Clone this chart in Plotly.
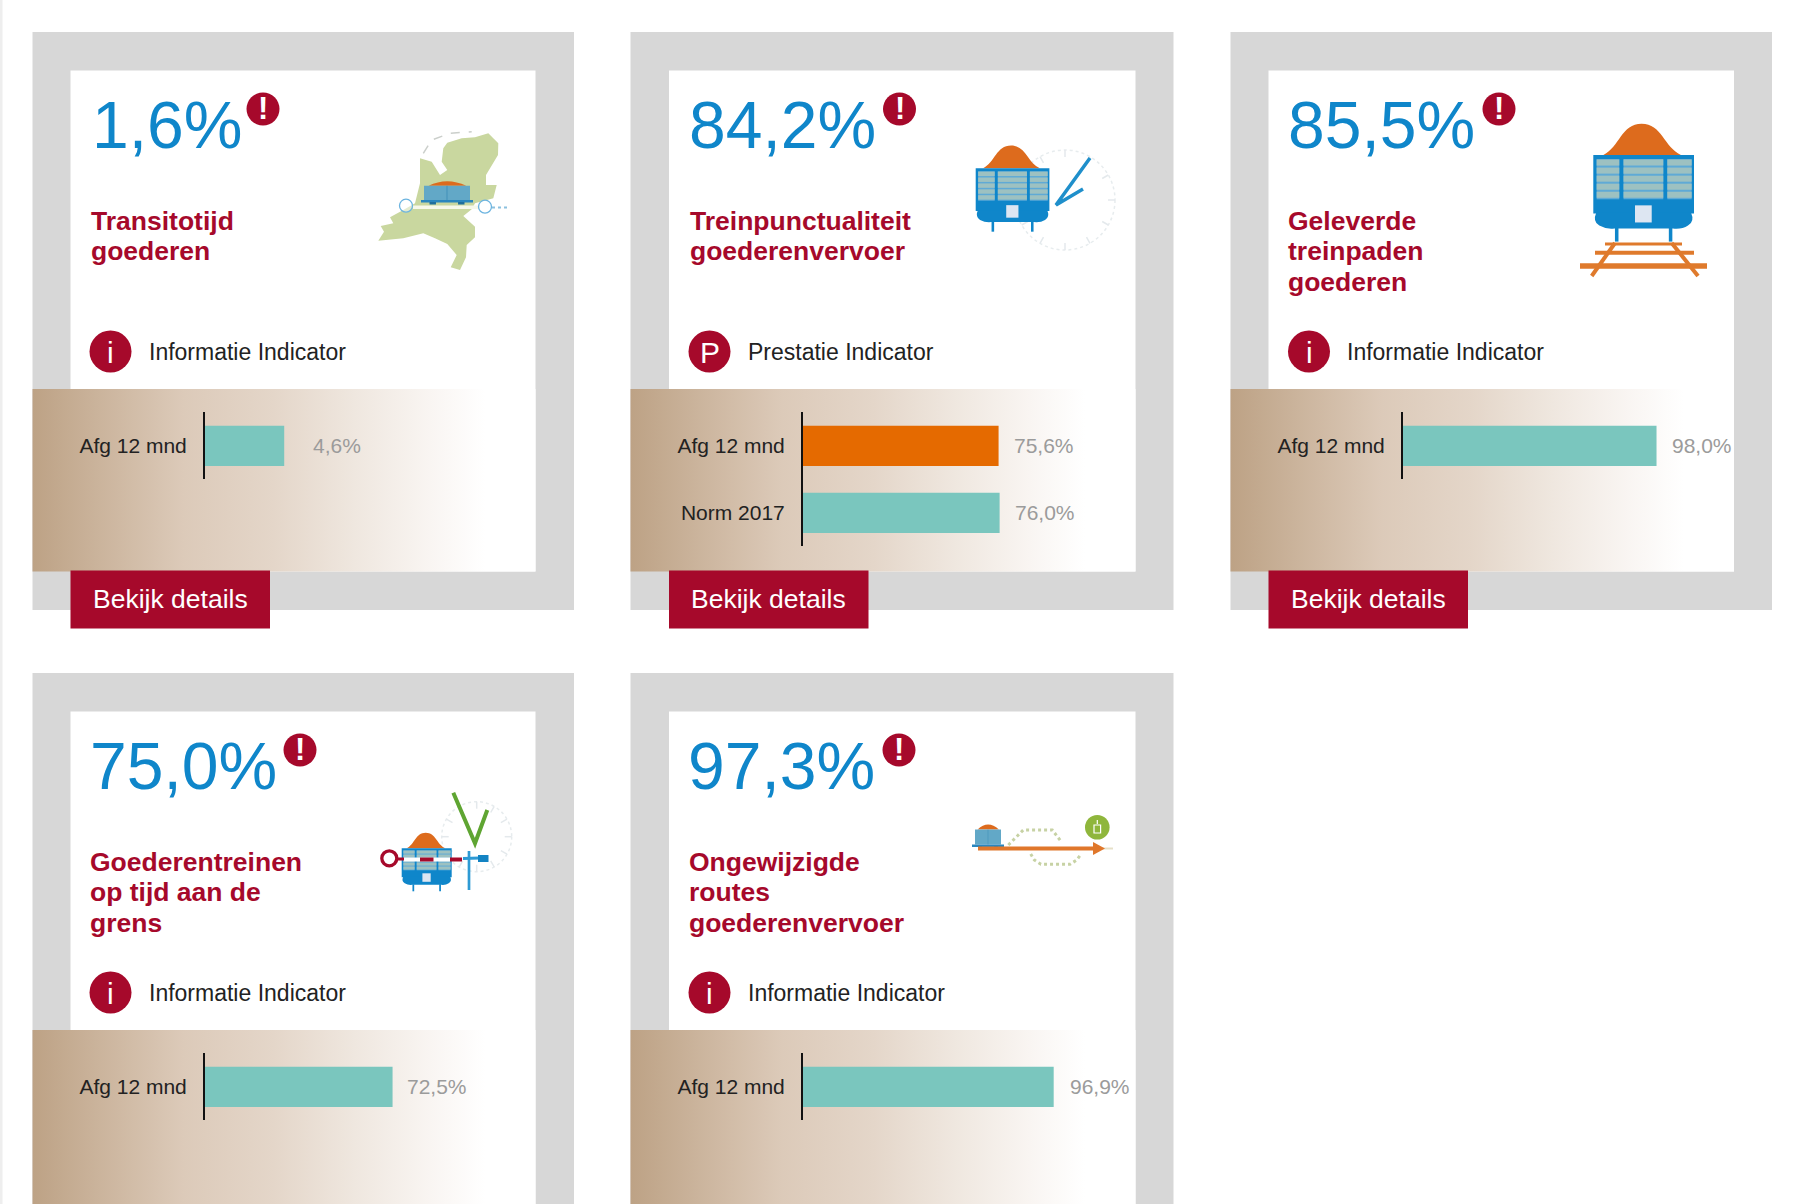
import math
import plotly.graph_objects as go

# data
headlines = ["1,6%", "84,2%", "85,5%", "75,0%", "97,3%"]
titles = [
    ["Transitotijd", "goederen"],
    ["Treinpunctualiteit", "goederenvervoer"],
    ["Geleverde", "treinpaden", "goederen"],
    ["Goederentreinen", "op tijd aan de", "grens"],
    ["Ongewijzigde", "routes", "goederenvervoer"],
]
indicators = ["Informatie Indicator", "Prestatie Indicator", "Informatie Indicator",
              "Informatie Indicator", "Informatie Indicator"]
indicator_marks = ["i", "P", "i", "i", "i"]
bar_categories = [
    ["Afg 12 mnd"],
    ["Afg 12 mnd", "Norm 2017"],
    ["Afg 12 mnd"],
    ["Afg 12 mnd"],
    ["Afg 12 mnd"],
]
bar_values = [
    [4.6],
    [75.6, 76.0],
    [98.0],
    [72.5],
    [96.9],
]
# the first card has its own scale, its bar is much longer than 4,6 of 100
axis_max = [15.1, 100.5, 100.5, 100.5, 100.5]

# colours
GREY = "#D7D7D7"
RED = "#A6092B"
BLUE = "#0F86CA"
TEAL = "#7AC6BE"
ORANGE = "#E56A00"
RUST = "#DD6B1D"
bar_colors = [[TEAL], [ORANGE, TEAL], [TEAL], [TEAL], [TEAL]]
FONT = "Liberation Sans"

# page layout in pixels
W, H = 1800, 1204
outer_x = [(32.5, 574), (630.5, 1173.5), (1230.5, 1772), (32.5, 574), (630.5, 1173.5)]
inner_x = [(70.5, 535.5), (669, 1135.5), (1268.5, 1734), (70.5, 535.5), (669, 1135.5)]
row_y = [0, 0, 0, 641, 641]
axis_x = [205, 803, 1403, 205, 803]
head_x = [90.5, 688, 1287, 88.5, 686.5]
title_x = [89.5, 688.5, 1287, 88.5, 687.5]
badge_x = [263, 899.5, 1499, 300, 899]
circle_x = [110.5, 709.5, 1309, 110.5, 709.5]
label_x = [147.5, 746.5, 1345.5, 147.5, 746.5]
value_gap = [28, 14, 14, 13.5, 15]
button_w = 199.5


def rect(x0, y0, x1, y1, color, layer="above"):
    return dict(type="rect", xref="x", yref="y", x0=x0, y0=y0, x1=x1, y1=y1,
                fillcolor=color, line_width=0, layer=layer)


def circle(cx, cy, r, fill, line=None, width=0, dash=None):
    ln = dict(width=width)
    if line:
        ln["color"] = line
    if dash:
        ln["dash"] = dash
    return dict(type="circle", xref="x", yref="y", x0=cx - r, y0=cy - r, x1=cx + r, y1=cy + r,
                fillcolor=fill, line=ln, layer="above")


def path(d, fill=None, line=None, width=0, dash=None):
    ln = dict(width=width)
    if line:
        ln["color"] = line
    if dash:
        ln["dash"] = dash
    return dict(type="path", xref="x", yref="y", path=d,
                fillcolor=fill if fill else "rgba(0,0,0,0)", line=ln, layer="above")


def outline(points, ox, oy, closed=True, scale=1 / 3):
    # icon outlines were traced at 3x, ox and oy are the icon's corner on the page
    d = "M" + " L".join(f"{ox + x * scale:.1f},{oy + y * scale:.1f}" for x, y in points)
    return d + (" Z" if closed else "")


def wagon(x0, y0, s):
    def p(x, y):
        return f"{x0 + x * s:.1f},{y0 + y * s:.1f}"

    out = []
    out.append(path(f"M{p(10, 0)} C{p(26, -8)} {p(28, -31)} {p(48, -31)} "
                    f"C{p(68, -31)} {p(70, -8)} {p(87, 0)} Z", RUST))
    out.append(rect(x0, y0, x0 + 100 * s, y0 + 58 * s, BLUE))
    for a, b in [(3.3, 25.8), (30, 69.5), (73.5, 97.7)]:
        out.append(rect(x0 + a * s, y0 + 4 * s, x0 + b * s, y0 + 44 * s, "#5FAAD6"))
        for k in range(5):
            top = 4.5 + k * 8
            out.append(rect(x0 + a * s, y0 + top * s, x0 + b * s, y0 + (top + 6) * s, "#9DC1C1"))
    out.append(path(f"M{p(3, 57)} Q{p(-1, 66)} {p(6, 70)} Q{p(13, 74)} {p(21, 73)} L{p(79, 73)} "
                    f"Q{p(88, 74)} {p(94, 70)} Q{p(101, 66)} {p(97, 57)} Z", BLUE))
    out.append(rect(x0 + 41.4 * s, y0 + 50 * s, x0 + 58 * s, y0 + 67 * s, "#DDE6F2"))
    for a in (21.5, 75):
        out.append(rect(x0 + a * s, y0 + 72 * s, x0 + (a + 3.5) * s, y0 + 86 * s, BLUE))
    return out


def flat_wagon(x0, y0, w, h, hump):
    # the small side-on wagons of cards 1 and 5
    out = [path(f"M{x0 + w * 0.1:.1f},{y0} Q{x0 + w * 0.5:.1f},{y0 - hump * 2:.1f} {x0 + w * 0.92:.1f},{y0} Z", RUST)]
    out.append(rect(x0, y0, x0 + w, y0 + h, "#62A8C7"))
    out.append(rect(x0 + w * 0.49, y0, x0 + w * 0.51, y0 + h, "#3F8EB8"))
    out.append(rect(x0 - 3, y0 + h, x0 + w + 3, y0 + h + 2.5, "#2A86BE"))
    out.append(rect(x0 + w * 0.12, y0 + h + 2, x0 + w * 0.26, y0 + h + 4.5, "#1F6E9C"))
    out.append(rect(x0 + w * 0.74, y0 + h + 2, x0 + w * 0.88, y0 + h + 4.5, "#1F6E9C"))
    return out


def clock(cx, cy, r):
    out = [circle(cx, cy, r, "rgba(0,0,0,0)", "#E7ECEE", 1.5, "dot")]
    for k in range(12):
        a = k * math.pi / 6
        out.append(path(f"M{cx + r * math.cos(a):.1f},{cy + r * math.sin(a):.1f} "
                        f"L{cx + (r - 7) * math.cos(a):.1f},{cy + (r - 7) * math.sin(a):.1f}",
                        None, "#E4E9EC", 1.5))
    return out


shapes = [rect(0, 0, 2.5, H, "#EEEEEE", "below")]
for i in range(5):
    dy = row_y[i]
    shapes.append(rect(outer_x[i][0], 32 + dy, outer_x[i][1], 610 + dy, GREY, "below"))
    shapes.append(rect(inner_x[i][0], 70.5 + dy, inner_x[i][1], 571.5 + dy, "white", "below"))
    if dy == 0:
        shapes.append(rect(inner_x[i][0], 570.5, inner_x[i][0] + button_w, 628.5, RED))
    shapes.append(circle(badge_x[i], 109 + dy, 16.5, RED))
    shapes.append(circle(circle_x[i], 351.5 + dy, 21, RED))

# card 1: map with wagon
shapes.append(path(outline([
    (250, 85), (262, 68), (305, 55), (345, 52), (385, 40), (415, 70), (414, 105), (378, 165), (378, 195),
    (410, 195), (400, 235), (345, 250), (335, 268), (310, 288), (345, 320), (345, 352), (320, 375),
    (318, 412), (300, 450), (272, 442), (290, 405), (262, 372), (225, 355), (190, 340), (130, 355),
    (55, 362), (72, 335), (62, 318), (100, 310), (90, 292), (130, 270), (165, 250), (180, 190),
    (180, 115), (215, 125), (240, 165), (262, 150), (245, 125)], 360, 120), "#C9D79F"))
shapes.append(path(outline([(190, 100), (215, 60), (270, 40), (335, 35)], 360, 120, closed=False),
                   None, "#CBCFCB", 1.5, "dash"))
shapes.append(rect(413, 205.5, 480, 209, "#F6F8EA"))
shapes += flat_wagon(424, 185.7, 46, 14.3, 4.5)
shapes.append(circle(406, 205.7, 6.5, "rgba(255,255,255,0.5)", "#6CB4E0", 1.3))
shapes.append(circle(485, 206.7, 6.5, "rgba(255,255,255,0.5)", "#6CB4E0", 1.3))
shapes.append(path("M492,207.5 L510,207.5", None, "#8CC1DF", 2, "dot"))

# card 2: wagon with clock
shapes += clock(1065, 200, 50)
shapes += wagon(975.7, 168.3, 0.737)
shapes.append(path("M1090,158 L1056,205 L1083,189", None, "#1F8FCB", 3.5))

# card 3: wagon on track
shapes += wagon(1593.3, 155, 1.007)
for y, a, b, t in [(244, 1605, 1682, 1.5), (252.7, 1595, 1694, 2), (266, 1580, 1707, 2.7)]:
    shapes.append(rect(a, y - t, b, y + t, "#DF7A2C"))
shapes.append(path("M1615,243 L1591.7,276", None, "#DF7A2C", 4))
shapes.append(path("M1671.7,243 L1698,276", None, "#DF7A2C", 4))

# card 4: wagon with signal
shapes += clock(476.7, 836.7, 35)
shapes.append(path("M453.3,792.7 L475,843.3 L487.3,810", None, "#5FA532", 4))
shapes += wagon(401.7, 848.3, 0.5)
shapes.append(rect(403.5, 857.5, 450, 861.5, "#FFFFFF"))
shapes.append(rect(420, 857.5, 433.5, 861.5, RED))
shapes.append(rect(450, 857.5, 462, 861.5, RED))
shapes.append(rect(397, 857.5, 404, 860.5, RED))
shapes.append(path("M463,858.5 L480,858", None, "#2E9AD4", 3))
shapes.append(rect(478, 855, 488.5, 862, "#1383C3"))
shapes.append(circle(389.3, 858.3, 7.5, "white", RED, 3.3))
shapes.append(path("M469,851 L469,890", None, "#2E9AD4", 2.7))

# card 5: wagon on route
shapes.append(path(outline([(130, 120), (160, 90), (175, 75), (262, 75), (275, 92), (290, 112)], 965, 805,
                           closed=False), None, "#C7D2A4", 3, "dot"))
shapes.append(path(outline([(197, 147), (208, 165), (228, 178), (315, 178), (335, 165), (348, 148)], 965, 805,
                           closed=False), None, "#C7D2A4", 3, "dot"))
shapes += flat_wagon(975, 829.5, 26, 15, 5)
shapes.append(rect(1100, 847.5, 1113, 849.5, "#E6E0C8"))
shapes.append(rect(978, 846.5, 1095, 850.5, "#E0772B"))
shapes.append(path("M1093,842 L1105,848.5 L1093,855 Z", "#E0772B"))
shapes.append(circle(1097.3, 827.3, 12.3, "#8FB63C"))
shapes.append(path("M1097.3,820 L1097.3,824 M1094,825 L1094,833 L1100.6,833 L1100.6,825 Z", None, "white", 1.2))

annotations = []


def text(x, y, s, size, color, bold=False, anchor="left", xref="x", yref="y", xshift=0):
    annotations.append(dict(x=x, y=y, xref=xref, yref=yref, text=f"<b>{s}</b>" if bold else s,
                            showarrow=False, xanchor=anchor, yanchor="middle", xshift=xshift,
                            font=dict(family=FONT, size=size, color=color), borderpad=0))


fig = go.Figure()

# gradient panels come first so that the bars sit on top of them
for i in range(5):
    left, right = outer_x[i][0], inner_x[i][1]
    top, bottom = 389 + row_y[i], 571.5 + row_y[i]
    fig.add_trace(go.Scatter(
        x=[left, right, right, left, left], y=[top, top, bottom, bottom, top],
        mode="lines", line=dict(width=0), fill="toself", hoverinfo="skip", xaxis="x", yaxis="y",
        fillgradient=dict(type="horizontal", colorscale=[
            [0, "#BDA285"], [0.3, "#DCCAB9"], [0.48, "#E4D6C9"], [0.64, "#EFE7DF"],
            [0.79, "#F9F5F2"], [0.9, "#FFFFFF"], [1, "#FFFFFF"]]),
    ))

axes = dict(
    xaxis=dict(range=[0, W], visible=False, domain=[0, 1], fixedrange=True),
    yaxis=dict(range=[H, 0], visible=False, domain=[0, 1], fixedrange=True),
)

for i in range(5):
    n = i + 2
    dy = row_y[i]
    rows = len(bar_values[i])
    y0, y1 = 412.3 + dy, 412.3 + dy + 67 * rows
    x0 = axis_x[i]
    fig.add_trace(go.Bar(
        x=bar_values[i], y=bar_categories[i], orientation="h",
        marker=dict(color=bar_colors[i], line_width=0),
        xaxis=f"x{n}", yaxis=f"y{n}", hoverinfo="skip", cliponaxis=False,
    ))
    axes[f"xaxis{n}"] = dict(domain=[x0 / W, (x0 + 260) / W], range=[0, axis_max[i]], visible=False,
                             anchor=f"y{n}", fixedrange=True)
    axes[f"yaxis{n}"] = dict(domain=[1 - y1 / H, 1 - y0 / H], anchor=f"x{n}", type="category",
                             autorange="reversed", showline=True, linecolor="#111111", linewidth=2,
                             showgrid=False, zeroline=False, ticks="outside", ticklen=12,
                             tickcolor="rgba(0,0,0,0)",
                             tickfont=dict(family=FONT, size=21, color="#222222"), fixedrange=True)
    for j, v in enumerate(bar_values[i]):
        label = f"{v:.1f}%".replace(".", ",")
        text(v, j, label, 21, "#9B9B9B", xref=f"x{n}", yref=f"y{n}", xshift=value_gap[i])

    text(head_x[i], 125 + dy, headlines[i], 66, BLUE)
    for k, line in enumerate(titles[i]):
        text(title_x[i], 220.5 + dy + k * 30.7, line, 26.5, RED, bold=True)
    text(badge_x[i], 108 + dy, "!", 31, "white", bold=True, anchor="center")
    text(circle_x[i], 352 + dy, indicator_marks[i], 30, "white", anchor="center")
    text(label_x[i], 351.5 + dy, indicators[i], 23, "#222222")
    if dy == 0:
        text(inner_x[i][0] + button_w / 2, 599, "Bekijk details", 26.5, "white", anchor="center")

fig.update_layout(
    width=W, height=H,
    margin=dict(l=0, r=0, t=0, b=0),
    paper_bgcolor="white", plot_bgcolor="rgba(0,0,0,0)",
    showlegend=False, bargap=0.4,
    shapes=shapes, annotations=annotations,
    font=dict(family=FONT),
    **axes,
)

fig.write_html("out.html", config={"displayModeBar": False},
               post_script="document.body.style.margin='0';document.body.style.overflow='hidden';")
